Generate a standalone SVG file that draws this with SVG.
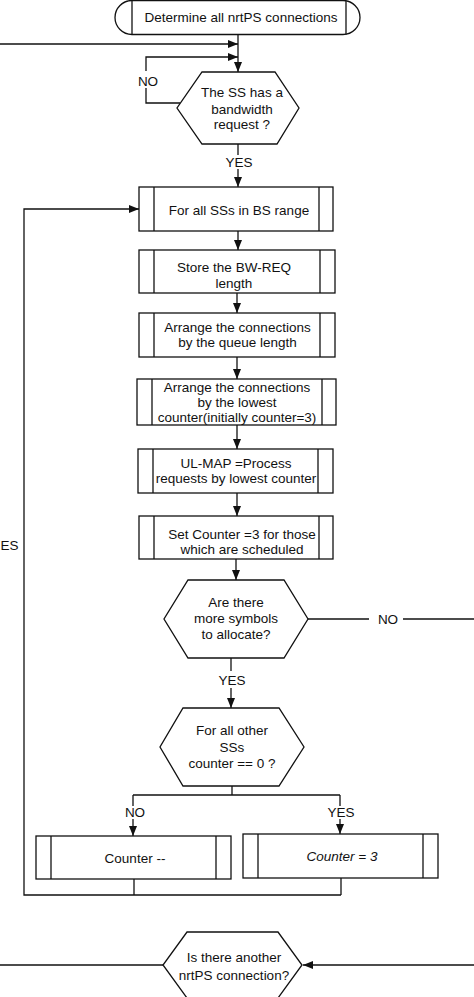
<svg xmlns="http://www.w3.org/2000/svg" width="474" height="997" viewBox="0 0 474 997">
<style>
.s{fill:#fff;stroke:#111;stroke-width:1.3}
.l{fill:none;stroke:#111;stroke-width:1.3}
.t{font-family:"Liberation Sans",Arial,sans-serif;font-size:13.5px;fill:#111;text-anchor:middle}
.i{font-style:italic}
</style>
<defs>
<marker id="a" markerUnits="userSpaceOnUse" markerWidth="10" markerHeight="8" refX="10" refY="4" orient="auto">
<path d="M0,0 L10,4 L0,8 Z" fill="#111"/>
</marker>
</defs>
<rect width="474" height="997" fill="#fff"/>
<g id="connectors">
<line class="l" x1="238" y1="34.5" x2="238" y2="72" marker-end="url(#a)"/>
<line class="l" x1="0" y1="44" x2="238" y2="44" marker-end="url(#a)"/>
<polyline class="l" points="180,103 146,103 146,88"/>
<polyline class="l" points="146,71 146,57 238,57" marker-end="url(#a)"/>
<text class="t" x="148" y="86">NO</text>
<line class="l" x1="238" y1="144" x2="238" y2="155"/>
<line class="l" x1="238" y1="169" x2="238" y2="187" marker-end="url(#a)"/>
<text class="t" x="239" y="167">YES</text>
<line class="l" x1="238" y1="231" x2="238" y2="250" marker-end="url(#a)"/>
<line class="l" x1="237" y1="293" x2="237" y2="313" marker-end="url(#a)"/>
<line class="l" x1="237" y1="357" x2="237" y2="379" marker-end="url(#a)"/>
<line class="l" x1="237" y1="425" x2="237" y2="449" marker-end="url(#a)"/>
<line class="l" x1="237" y1="493" x2="237" y2="516" marker-end="url(#a)"/>
<line class="l" x1="236" y1="559" x2="236" y2="580" marker-end="url(#a)"/>
<line class="l" x1="308" y1="619" x2="369" y2="619"/>
<text class="t" x="388" y="624">NO</text>
<line class="l" x1="403" y1="619" x2="474" y2="619"/>
<line class="l" x1="231" y1="658" x2="231" y2="671"/>
<text class="t" x="232" y="685">YES</text>
<line class="l" x1="231" y1="688" x2="231" y2="708" marker-end="url(#a)"/>
<polyline class="l" points="232,786 232,795"/>
<line class="l" x1="133" y1="795" x2="340" y2="795"/>
<line class="l" x1="133" y1="795" x2="133" y2="806"/>
<line class="l" x1="133" y1="819" x2="133" y2="836" marker-end="url(#a)"/>
<text class="t" x="135" y="817">NO</text>
<line class="l" x1="340" y1="795" x2="340" y2="806"/>
<line class="l" x1="340" y1="819" x2="340" y2="834" marker-end="url(#a)"/>
<text class="t" x="341" y="817">YES</text>
<line class="l" x1="134" y1="879" x2="134" y2="895"/>
<line class="l" x1="341" y1="878" x2="341" y2="895"/>
<polyline class="l" points="341,895 24,895 24,209 139,209" marker-end="url(#a)"/>
<text class="t" x="0.5" y="550" style="text-anchor:start">ES</text>
<line class="l" x1="0" y1="965" x2="163" y2="965"/>
<line class="l" x1="474" y1="965" x2="303" y2="965" marker-end="url(#a)"/>
</g>
<g id="start">
<path class="s" d="M132,0.5 H343 A17,17 0 0 1 343,34.5 H132 A17,17 0 0 1 132,0.5 Z"/>
<line class="l" x1="132" y1="0.5" x2="132" y2="34.5"/>
<line class="l" x1="346" y1="0.5" x2="346" y2="34.5"/>
<text class="t" x="241" y="22">Determine all nrtPS connections</text>
</g>
<g id="d1">
<polygon class="s" points="202,72 275,72 299,108 277,144 202,144 177,108"/>
<text class="t" x="242" y="97">The SS has a</text>
<text class="t" x="242" y="114">bandwidth</text>
<text class="t" x="242" y="129">request ?</text>
</g>
<g id="p1">
<rect class="s" x="139" y="187" width="194" height="44"/>
<line class="l" x1="154" y1="187" x2="154" y2="231"/>
<line class="l" x1="319" y1="187" x2="319" y2="231"/>
<text class="t" x="239" y="215">For all SSs in BS range</text>
</g>
<g id="p2">
<rect class="s" x="139" y="250" width="196" height="43"/>
<line class="l" x1="154" y1="250" x2="154" y2="293"/>
<line class="l" x1="320" y1="250" x2="320" y2="293"/>
<text class="t" x="234" y="272">Store the BW-REQ</text>
<text class="t" x="234" y="288">length</text>
</g>
<g id="p3">
<rect class="s" x="139" y="313" width="196" height="44"/>
<line class="l" x1="154" y1="313" x2="154" y2="357"/>
<line class="l" x1="320" y1="313" x2="320" y2="357"/>
<text class="t" x="237.5" y="332">Arrange the connections</text>
<text class="t" x="237.5" y="347">by the queue length</text>
</g>
<g id="p4">
<rect class="s" x="137" y="379" width="199" height="46"/>
<line class="l" x1="152" y1="379" x2="152" y2="425"/>
<line class="l" x1="322" y1="379" x2="322" y2="425"/>
<text class="t" x="237" y="392">Arrange the connections</text>
<text class="t" x="237" y="407">by the lowest</text>
<text class="t" x="237" y="422">counter(initially counter=3)</text>
</g>
<g id="p5">
<rect class="s" x="138" y="449" width="195" height="44"/>
<line class="l" x1="153" y1="449" x2="153" y2="493"/>
<line class="l" x1="318" y1="449" x2="318" y2="493"/>
<text class="t" x="236" y="468">UL-MAP =Process</text>
<text class="t" x="236" y="483">requests by lowest counter</text>
</g>
<g id="p6">
<rect class="s" x="139" y="516" width="194" height="43"/>
<line class="l" x1="154" y1="516" x2="154" y2="559"/>
<line class="l" x1="319" y1="516" x2="319" y2="559"/>
<text class="t" x="242" y="539">Set Counter =3 for those</text>
<text class="t" x="242" y="554">which are scheduled</text>
</g>
<g id="d2">
<polygon class="s" points="188,580 284,580 308,619 284,658 188,658 164,619"/>
<text class="t" x="236" y="607">Are there</text>
<text class="t" x="236" y="623">more symbols</text>
<text class="t" x="236" y="639">to allocate?</text>
</g>
<g id="d3">
<polygon class="s" points="183,708 279,708 304,747 279,786 183,786 160,747"/>
<text class="t" x="232" y="735">For all other</text>
<text class="t" x="232" y="752">SSs</text>
<text class="t" x="232" y="768">counter == 0 ?</text>
</g>
<g id="p7">
<rect class="s" x="36" y="836" width="195" height="43"/>
<line class="l" x1="51" y1="836" x2="51" y2="879"/>
<line class="l" x1="216" y1="836" x2="216" y2="879"/>
<text class="t" x="135" y="863">Counter --</text>
</g>
<g id="p8">
<rect class="s" x="243" y="834" width="195" height="44"/>
<line class="l" x1="258" y1="834" x2="258" y2="878"/>
<line class="l" x1="423" y1="834" x2="423" y2="878"/>
<text class="t i" x="342" y="861">Counter = 3</text>
</g>
<g id="d4">
<polygon class="s" points="187,932 278,932 302,965 278,998 187,998 163,965"/>
<text class="t" x="234" y="962">Is there another</text>
<text class="t" x="234" y="980">nrtPS connection?</text>
</g>
</svg>
